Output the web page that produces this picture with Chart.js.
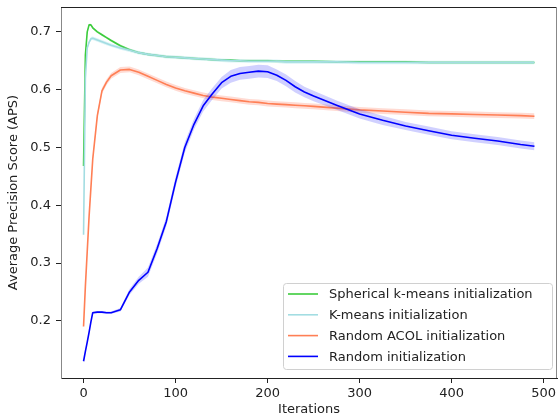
<!DOCTYPE html>
<html>
<head>
<meta charset="utf-8">
<script src="https://cdn.jsdelivr.net/npm/chart.js@4.4.0/dist/chart.umd.min.js"></script>
<style>
    html, body { margin: 0; padding: 0; background: #fff; }
    #wrap { width: 559px; height: 418px; }
</style>
</head>
<body>
<div id="wrap"><canvas id="apsChart" width="559" height="418"></canvas></div>
<script>
// Iteration points shared by every curve
const iterations = [0, 2, 4, 6, 8, 10, 15, 20, 25, 30, 40, 50, 60, 70, 80, 90, 100, 110, 120, 130, 140,
    150, 160, 170, 180, 190, 200, 210, 220, 230, 240, 250, 275, 300, 325, 350, 375, 400, 425, 450, 475, 490];

// Mean APS per run type
const sphericalKmeans = [0.468, 0.660, 0.700, 0.712, 0.712, 0.707, 0.700, 0.695, 0.690, 0.685, 0.676, 0.669, 0.664,
    0.661, 0.659, 0.657, 0.656, 0.655, 0.654, 0.653, 0.652, 0.651, 0.651, 0.650, 0.650, 0.650, 0.650, 0.649, 0.649,
    0.649, 0.649, 0.649, 0.648, 0.648, 0.648, 0.648, 0.647, 0.647, 0.647, 0.647, 0.647, 0.647];
const kmeans = [0.349, 0.620, 0.672, 0.682, 0.688, 0.689, 0.686, 0.683, 0.680, 0.677, 0.672, 0.668, 0.664,
    0.661, 0.659, 0.657, 0.656, 0.655, 0.654, 0.653, 0.652, 0.651, 0.650, 0.650, 0.649, 0.649, 0.649, 0.649, 0.648,
    0.648, 0.648, 0.648, 0.648, 0.647, 0.647, 0.647, 0.647, 0.647, 0.647, 0.647, 0.647, 0.647];
const randomAcol = [0.190, 0.260, 0.320, 0.380, 0.430, 0.480, 0.555, 0.598, 0.613, 0.624, 0.634, 0.635, 0.630,
    0.623, 0.616, 0.609, 0.603, 0.598, 0.594, 0.590, 0.587, 0.585, 0.583, 0.581, 0.579, 0.578, 0.576, 0.575, 0.574,
    0.573, 0.572, 0.571, 0.568, 0.565, 0.563, 0.561, 0.559, 0.558, 0.557, 0.556, 0.555, 0.554];
const randomInit = [0.130, 0.147, 0.163, 0.180, 0.198, 0.214, 0.215, 0.215, 0.214, 0.214, 0.219, 0.250, 0.270,
    0.284, 0.325, 0.372, 0.440, 0.500, 0.540, 0.572, 0.593, 0.612, 0.623, 0.628, 0.630, 0.632, 0.631, 0.625, 0.616,
    0.605, 0.596, 0.589, 0.573, 0.558, 0.547, 0.537, 0.529, 0.521, 0.516, 0.511, 0.505, 0.502];

// Half width of the shaded spread around each mean
const sphericalSpread = [0.001, 0.002, 0.002, 0.002, 0.002, 0.002, 0.002, 0.002, 0.002, 0.002, 0.002, 0.002, 0.002,
    0.002, 0.002, 0.002, 0.002, 0.002, 0.002, 0.002, 0.002, 0.002, 0.002, 0.002, 0.002, 0.002, 0.002, 0.002, 0.002,
    0.002, 0.002, 0.002, 0.002, 0.002, 0.002, 0.002, 0.002, 0.002, 0.002, 0.002, 0.002, 0.002];
const kmeansSpread = [0.001, 0.003, 0.003, 0.003, 0.003, 0.003, 0.003, 0.003, 0.003, 0.003, 0.003, 0.003, 0.003,
    0.003, 0.003, 0.003, 0.003, 0.003, 0.003, 0.003, 0.003, 0.003, 0.003, 0.003, 0.003, 0.003, 0.003, 0.003, 0.003,
    0.003, 0.003, 0.003, 0.003, 0.003, 0.003, 0.003, 0.003, 0.003, 0.003, 0.003, 0.003, 0.003];
const acolSpread = [0.002, 0.003, 0.003, 0.003, 0.004, 0.004, 0.005, 0.005, 0.005, 0.005, 0.005, 0.005, 0.005,
    0.005, 0.005, 0.005, 0.005, 0.005, 0.005, 0.005, 0.005, 0.005, 0.005, 0.005, 0.005, 0.005, 0.005, 0.005, 0.005,
    0.005, 0.005, 0.005, 0.005, 0.005, 0.005, 0.005, 0.005, 0.005, 0.005, 0.005, 0.005, 0.005];
const randomSpread = [0.002, 0.002, 0.002, 0.002, 0.002, 0.002, 0.002, 0.002, 0.002, 0.002, 0.003, 0.005, 0.006,
    0.008, 0.008, 0.008, 0.009, 0.009, 0.009, 0.010, 0.010, 0.010, 0.011, 0.011, 0.011, 0.011, 0.011, 0.010, 0.010,
    0.010, 0.009, 0.009, 0.008, 0.008, 0.008, 0.007, 0.007, 0.007, 0.007, 0.007, 0.007, 0.007];

const seriesLabels = ['Spherical k-means initialization', 'K-means initialization',
    'Random ACOL initialization', 'Random initialization'];
const xTickValues = [0, 100, 200, 300, 400, 500];
const yTickValues = [0.2, 0.3, 0.4, 0.5, 0.6, 0.7];

const lineColors = ['#3ccc3c', '#a3dde2', '#ff7f55', '#0000ff'];
const bandColors = ['rgba(60,204,60,0.25)', 'rgba(150,220,228,0.35)', 'rgba(255,110,80,0.25)', 'rgba(40,40,255,0.22)'];

const FONT = 'DejaVu Sans';

function toPoints(values) {
    return iterations.map((x, i) => ({ x: x, y: values[i] }));
}

function shifted(values, spread, sign) {
    return iterations.map((x, i) => ({ x: x, y: values[i] + sign * spread[i] }));
}

// each series = lower band, upper band (filled to lower), then the mean line
function buildDatasets() {
    const means = [sphericalKmeans, kmeans, randomAcol, randomInit];
    const spreads = [sphericalSpread, kmeansSpread, acolSpread, randomSpread];
    let sets = [];
    means.forEach((m, k) => {
        const depth = (4 - k) * 10;
        sets.push({ data: shifted(m, spreads[k], -1), borderWidth: 0, pointRadius: 0, fill: false, order: depth + 2 });
        sets.push({ data: shifted(m, spreads[k], 1), borderWidth: 0, pointRadius: 0, fill: '-1',
            backgroundColor: bandColors[k], order: depth + 1 });
        sets.push({ label: seriesLabels[k], data: toPoints(m), borderColor: lineColors[k], borderWidth: 1.6,
            pointRadius: 0, fill: false, tension: 0, borderJoinStyle: 'round', order: depth });
    });
    return sets;
}

// top and right spines, matplotlib style box
const framePlugin = {
    id: 'frame',
    afterDraw(chart) {
        const { ctx, chartArea: a } = chart;
        ctx.save();
        ctx.lineWidth = 1;
        ctx.strokeStyle = '#222';
        ctx.beginPath();
        ctx.moveTo(a.left, a.top + 0.5);
        ctx.lineTo(a.right, a.top + 0.5);
        ctx.stroke();
        ctx.strokeStyle = '#888';
        ctx.beginPath();
        ctx.moveTo(a.right - 0.5, a.top);
        ctx.lineTo(a.right - 0.5, a.bottom);
        ctx.stroke();
        ctx.restore();
    }
};

// legend inside the axes, lower right corner
const boxLegend = {
    id: 'boxLegend',
    afterDraw(chart) {
        const ctx = chart.ctx;
        const a = chart.chartArea;
        const w = 269, h = 86;
        const x0 = a.right - 5 - w, y0 = a.bottom - 9 - h;
        ctx.save();
        ctx.beginPath();
        ctx.roundRect(x0 + 0.5, y0 + 0.5, w, h, 3);
        ctx.fillStyle = 'rgba(255,255,255,0.85)';
        ctx.fill();
        ctx.strokeStyle = '#d0d0d0';
        ctx.lineWidth = 1;
        ctx.stroke();
        ctx.font = '13px "' + FONT + '"';
        ctx.textBaseline = 'middle';
        seriesLabels.forEach((label, i) => {
            const y = y0 + 11 + i * 20.8;
            ctx.strokeStyle = lineColors[i];
            ctx.lineWidth = 1.6;
            ctx.beginPath();
            ctx.moveTo(x0 + 5, y);
            ctx.lineTo(x0 + 35, y);
            ctx.stroke();
            ctx.fillStyle = '#222';
            ctx.fillText(label, x0 + 46, y + 1);
        });
        ctx.restore();
    }
};

new Chart(document.getElementById('apsChart').getContext('2d'), {
    type: 'line',
    data: { datasets: buildDatasets() },
    options: {
        responsive: false,
        animation: false,
        layout: { padding: { top: 7, right: 2, left: 0, bottom: 0 } },
        plugins: { legend: { display: false }, tooltip: { enabled: false } },
        scales: {
            x: {
                type: 'linear',
                min: -24.5,
                max: 514.5,
                afterBuildTicks: s => { s.ticks = xTickValues.map(v => ({ value: v })); },
                afterFit: s => { s.height = 40; s.paddingLeft = 0; s.paddingRight = 0; },
                ticks: { font: { family: FONT, size: 13 }, color: '#222', padding: 3, maxRotation: 0 },
                grid: { drawOnChartArea: false, tickLength: 5, tickColor: '#222' },
                border: { color: '#222' },
                title: { display: true, text: 'Iterations', font: { family: FONT, size: 13 }, color: '#222',
                    padding: { top: 0, bottom: 1 } }
            },
            y: {
                min: 0.101,
                max: 0.743,
                afterBuildTicks: s => { s.ticks = yTickValues.map(v => ({ value: v })); },
                afterFit: s => { s.width = 61; s.paddingTop = 0; s.paddingBottom = 0; },
                ticks: { font: { family: FONT, size: 13 }, color: '#222', padding: 5,
                    callback: v => v.toFixed(1) },
                grid: { drawOnChartArea: false, tickLength: 5, tickColor: '#222' },
                border: { color: '#888' },
                title: { display: true, text: 'Average Precision Score (APS)', font: { family: FONT, size: 13 },
                    color: '#222', padding: { top: 6, bottom: 0 } }
            }
        }
    },
    plugins: [framePlugin, boxLegend]
});
</script>
</body>
</html>
